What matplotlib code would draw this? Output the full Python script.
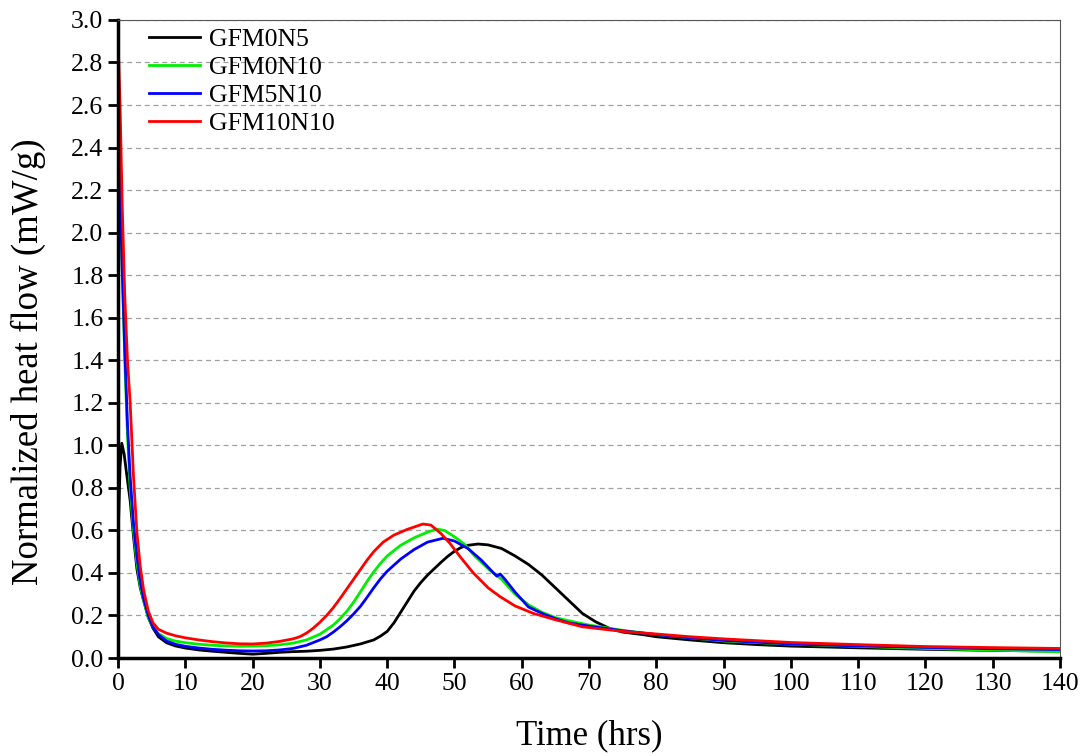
import matplotlib.pyplot as plt
import numpy as np

plt.rcParams['font.family'] = ['Liberation Serif', 'DejaVu Serif']

labels = ['GFM0N5', 'GFM0N10', 'GFM5N10', 'GFM10N10']
colors = ['black', '#00ee00', '#0000ff', '#ff0000']

t_black = [0, 0.3, 0.55, 0.9, 1.3, 1.8, 2.3, 2.8, 3.3, 3.8, 4.5, 5.2, 6, 7.2, 8.5, 10, 12, 14, 16, 18,
           20, 22, 24, 26, 28, 30, 32, 34, 36, 38, 39, 40, 41, 42, 43, 44, 45, 46, 47, 48, 49, 50, 51, 52,
           53.5, 55, 57, 59, 61, 63, 65, 67, 69, 71, 73, 75, 78, 80, 85, 90, 95, 100, 110, 120, 130, 140]
v_black = [0.55, 0.9, 1.01, 0.96, 0.86, 0.74, 0.57, 0.42, 0.33, 0.27, 0.19, 0.14, 0.10, 0.072, 0.057, 0.047,
           0.038, 0.032, 0.027, 0.022, 0.018, 0.022, 0.027, 0.03, 0.032, 0.036, 0.042, 0.052, 0.066, 0.085,
           0.103, 0.125, 0.165, 0.215, 0.265, 0.315, 0.355, 0.39, 0.42, 0.45, 0.478, 0.502, 0.52, 0.53,
           0.536, 0.532, 0.515, 0.48, 0.44, 0.39, 0.33, 0.27, 0.21, 0.17, 0.14, 0.122, 0.11, 0.10, 0.085,
           0.072, 0.063, 0.056, 0.048, 0.041, 0.036, 0.032]

t_green = [0, 0.3, 0.6, 1.0, 1.4, 1.8, 2.3, 2.8, 3.3, 3.8, 4.5, 5.2, 6, 7.2, 8.5, 10, 12, 14, 16, 18, 20,
           22, 24, 26, 28, 30, 32, 33, 34, 35, 36, 37, 38, 39, 40, 42, 44, 46, 47.4, 48.5, 50, 51.5, 53,
           55, 57, 59, 61, 63, 65, 67, 70, 75, 80, 85, 90, 100, 110, 120, 130, 140]
v_green = [2.62, 2.3, 1.85, 1.4, 1.05, 0.8, 0.6, 0.45, 0.34, 0.27, 0.19, 0.145, 0.115, 0.092, 0.08, 0.072,
           0.065, 0.06, 0.057, 0.055, 0.056, 0.058, 0.062, 0.07, 0.085, 0.112, 0.155, 0.185, 0.22, 0.262,
           0.31, 0.36, 0.405, 0.445, 0.48, 0.53, 0.565, 0.592, 0.606, 0.6, 0.57, 0.535, 0.48, 0.42, 0.37,
           0.30, 0.25, 0.215, 0.19, 0.175, 0.155, 0.13, 0.11, 0.095, 0.08, 0.065, 0.055, 0.045, 0.037, 0.03]

t_blue = [0, 0.3, 0.6, 1.0, 1.4, 1.8, 2.3, 2.8, 3.3, 3.8, 4.5, 5.2, 6, 7.2, 8.5, 10, 12, 14, 16, 18, 20,
          22, 24, 26, 28, 30, 31, 32, 33, 34, 35, 36, 37, 38, 39, 40, 42, 44, 46, 48.3, 50, 52, 54, 55.8,
          56.3, 56.8, 57.5, 59, 61, 63, 65, 67, 70, 75, 80, 85, 90, 100, 110, 120, 130, 140]
v_blue = [2.45, 2.2, 1.85, 1.45, 1.1, 0.85, 0.63, 0.48, 0.36, 0.28, 0.2, 0.145, 0.11, 0.08, 0.065, 0.055,
          0.047, 0.041, 0.037, 0.034, 0.033, 0.034, 0.038, 0.045, 0.06, 0.085, 0.1, 0.122, 0.147, 0.175,
          0.207, 0.242, 0.285, 0.33, 0.372, 0.408, 0.465, 0.51, 0.545, 0.563, 0.55, 0.515, 0.46, 0.4,
          0.385, 0.395, 0.37, 0.31, 0.24, 0.21, 0.185, 0.165, 0.15, 0.128, 0.11, 0.095, 0.083, 0.066,
          0.057, 0.05, 0.044, 0.04]

t_red = [0, 0.3, 0.6, 1.0, 1.4, 1.8, 2.3, 2.8, 3.3, 3.8, 4.5, 5.2, 6, 7.2, 8.5, 10, 12, 14, 16, 18, 20,
         22, 24, 26, 27, 28, 29, 30, 31, 32, 33, 34, 35, 36, 37, 38, 39.4, 41, 43, 45.3, 46.5, 48, 49.3,
         51, 52.8, 55, 56.8, 59, 61.7, 65, 69, 75, 80, 85, 90, 100, 110, 120, 130, 140]
v_red = [2.92, 2.6, 2.15, 1.7, 1.4, 1.2, 0.85, 0.59, 0.43, 0.32, 0.22, 0.165, 0.135, 0.117, 0.105, 0.095,
         0.085, 0.077, 0.071, 0.067, 0.066, 0.07, 0.078, 0.09, 0.1, 0.117, 0.14, 0.168, 0.2, 0.237, 0.28,
         0.325, 0.37, 0.415, 0.46, 0.5, 0.545, 0.578, 0.605, 0.63, 0.625, 0.585, 0.54, 0.47, 0.40, 0.33,
         0.288, 0.245, 0.21, 0.18, 0.147, 0.125, 0.113, 0.1, 0.09, 0.073, 0.063, 0.054, 0.049, 0.045]

series = [(t_black, v_black), (t_green, v_green), (t_blue, v_blue), (t_red, v_red)]

fig = plt.figure(figsize=(10.89, 7.56), dpi=100)
ax = fig.add_axes([0.1084, 0.1296, 0.865, 0.844])

for (t, v), c, lab in zip(series, colors, labels):
    ax.plot(t, v, color=c, lw=2, label=lab)

ax.set_xlim(0, 140)
ax.set_ylim(0, 3.0)
ax.set_xticks(np.arange(0, 141, 10))
ax.set_yticks(np.arange(0, 3.01, 0.2))
ax.set_yticklabels(['%.1f' % y for y in np.arange(0, 3.01, 0.2)])
ax.yaxis.grid(True, linestyle='--', color='#a0a0a0', lw=0.9, dashes=(4, 3))
ax.set_axisbelow(True)

ax.tick_params(axis='both', direction='out', width=2, length=7, labelsize=18.5)
ax.spines['left'].set_linewidth(2.5)
ax.spines['bottom'].set_linewidth(2.5)
ax.spines['top'].set_linewidth(0.8)
ax.spines['right'].set_linewidth(0.8)
ax.spines['top'].set_color('#555555')
ax.spines['right'].set_color('#555555')

ax.set_xlabel('Time (hrs)', fontsize=25, labelpad=18)
ax.set_ylabel('Normalized heat flow (mW/g)', fontsize=26.5)
ax.yaxis.set_label_coords(-0.076, 0.464)

ax.legend(loc='upper left', frameon=False, fontsize=18.5, handlelength=2.0,
          bbox_to_anchor=(0.008, 1.024), labelspacing=0.2, handletextpad=0.35)

fig.savefig('out.png', dpi=100)
